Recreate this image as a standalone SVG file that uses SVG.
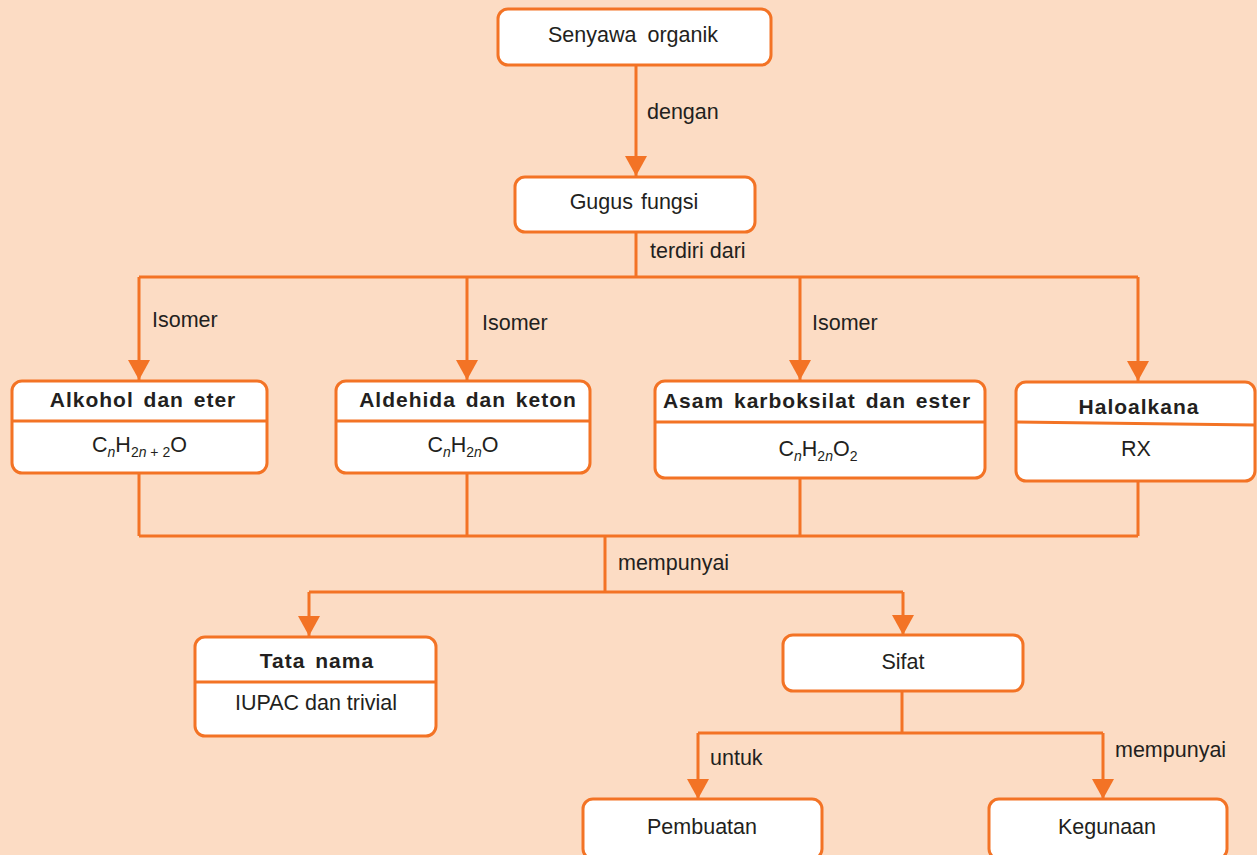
<svg xmlns="http://www.w3.org/2000/svg" width="1257" height="855" viewBox="0 0 1257 855">
<style>
.bg{fill:#FCDCC4}
.box{fill:#FFFFFF;stroke:#F37325;stroke-width:3}
.div{stroke:#F37325;stroke-width:3;fill:none}
.ln{stroke:#F37325;stroke-width:3;fill:none}
.t{font-family:"Liberation Sans",Arial,sans-serif;font-size:21.5px;fill:#231F20}
.c{text-anchor:middle}
.b{font-size:21px;font-weight:bold;letter-spacing:1px;word-spacing:3px}
.sub{font-size:14px}
.it{font-style:italic}
</style>
<defs>
<marker id="arr" viewBox="0 0 20 22" refX="20" refY="11" markerWidth="20" markerHeight="22" markerUnits="userSpaceOnUse" orient="auto">
<path d="M0,0 L20,11 L0,22 z" fill="#F37325"/>
</marker>
</defs>
<rect class="bg" x="0" y="0" width="1257" height="855"/>
<g id="connectors">
<path class="ln" d="M636,65 V176" marker-end="url(#arr)"/>
<path class="ln" d="M636,232 V277 M139,277 H1138"/>
<path class="ln" d="M139,277 V380" marker-end="url(#arr)"/>
<path class="ln" d="M467,277 V380" marker-end="url(#arr)"/>
<path class="ln" d="M800,277 V380" marker-end="url(#arr)"/>
<path class="ln" d="M1138,277 V381" marker-end="url(#arr)"/>
<path class="ln" d="M139,473 V536 M467,473 V536 M800,478 V536 M1138,481 V536 M139,536 H1138 M605,536 V592 M309,592 H903"/>
<path class="ln" d="M309,592 V636" marker-end="url(#arr)"/>
<path class="ln" d="M903,592 V635" marker-end="url(#arr)"/>
<path class="ln" d="M902,691 V733 M698,733 H1103"/>
<path class="ln" d="M698,733 V799" marker-end="url(#arr)"/>
<path class="ln" d="M1103,733 V799" marker-end="url(#arr)"/>
<text class="t" x="647" y="119">dengan</text>
<text class="t" x="650" y="258">terdiri dari</text>
<text class="t" x="152" y="327">Isomer</text>
<text class="t" x="482" y="330">Isomer</text>
<text class="t" x="812" y="330">Isomer</text>
<text class="t" x="618" y="570">mempunyai</text>
<text class="t" x="710" y="765">untuk</text>
<text class="t" x="1115" y="757">mempunyai</text>
</g>
<g id="senyawa">
<rect class="box" x="498" y="9" width="273" height="56" rx="10"/>
<text class="t c" x="633" y="42" word-spacing="5">Senyawa organik</text>
</g>
<g id="gugus">
<rect class="box" x="515" y="177" width="240" height="55" rx="10"/>
<text class="t c" x="634" y="209" word-spacing="2">Gugus fungsi</text>
</g>
<g id="alkohol">
<rect class="box" x="12" y="381" width="255" height="92" rx="10"/>
<line class="div" x1="12" y1="421" x2="267" y2="421"/>
<text class="t c b" x="143" y="407">Alkohol dan eter</text>
<text class="t c" x="139.5" y="452">C<tspan class="sub it" dy="5">n</tspan><tspan dy="-5">H</tspan><tspan class="sub" dy="5">2</tspan><tspan class="sub it">n</tspan><tspan class="sub"> + 2</tspan><tspan dy="-5">O</tspan></text>
</g>
<g id="aldehida">
<rect class="box" x="336" y="381" width="254" height="92" rx="10"/>
<line class="div" x1="336" y1="421" x2="590" y2="421"/>
<text class="t c b" x="468" y="407">Aldehida dan keton</text>
<text class="t c" x="463" y="452">C<tspan class="sub it" dy="5">n</tspan><tspan dy="-5">H</tspan><tspan class="sub" dy="5">2</tspan><tspan class="sub it">n</tspan><tspan dy="-5">O</tspan></text>
</g>
<g id="asam">
<rect class="box" x="655" y="381" width="330" height="97" rx="10"/>
<line class="div" x1="655" y1="422" x2="985" y2="422"/>
<text class="t c b" x="817" y="408">Asam karboksilat dan ester</text>
<text class="t c" x="818" y="456">C<tspan class="sub it" dy="5">n</tspan><tspan dy="-5">H</tspan><tspan class="sub" dy="5">2</tspan><tspan class="sub it">n</tspan><tspan dy="-5">O</tspan><tspan class="sub" dy="5">2</tspan></text>
</g>
<g id="haloalkana">
<rect class="box" x="1016" y="382" width="239" height="99" rx="10"/>
<line class="div" x1="1016" y1="422" x2="1255" y2="425"/>
<text class="t c b" x="1139" y="414">Haloalkana</text>
<text class="t c" x="1136" y="456">RX</text>
</g>
<g id="tatanama">
<rect class="box" x="195" y="637" width="241" height="99" rx="10"/>
<line class="div" x1="195" y1="682" x2="436" y2="682"/>
<text class="t c b" x="317" y="668">Tata nama</text>
<text class="t c" x="316" y="710">IUPAC dan trivial</text>
</g>
<g id="sifat">
<rect class="box" x="783" y="635" width="240" height="56" rx="10"/>
<text class="t c" x="903" y="669">Sifat</text>
</g>
<g id="pembuatan">
<rect class="box" x="583" y="799" width="239" height="60" rx="10"/>
<text class="t c" x="702" y="834">Pembuatan</text>
</g>
<g id="kegunaan">
<rect class="box" x="989" y="799" width="238" height="60" rx="10"/>
<text class="t c" x="1107" y="834">Kegunaan</text>
</g>
</svg>
